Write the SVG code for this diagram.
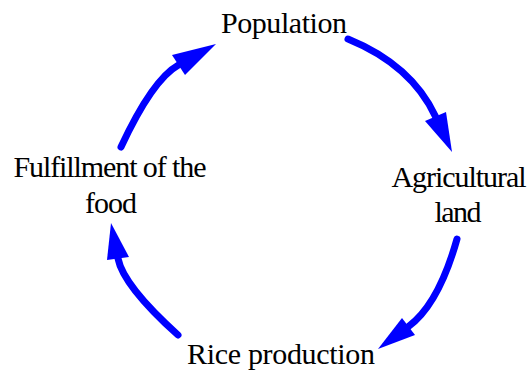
<svg xmlns="http://www.w3.org/2000/svg" width="530" height="373" viewBox="0 0 530 373">
  <style>
    .label { font-family: "Liberation Serif", "Times New Roman", serif; font-size: 30px; fill: #000; text-anchor: middle; }
    .link { fill: none; stroke: #0000ff; stroke-width: 7; stroke-linecap: round; }
    .head { fill: #0000ff; }
  </style>
  <rect width="530" height="373" fill="#fff"/>
  <g id="connectors">
    <!-- Population -> Agricultural land -->
    <path class="link" d="M348,39 Q411.6,65 435.5,116.5"/>
    <polygon class="head" points="425,121 446,112 452,152"/>
    <!-- Agricultural land -> Rice production -->
    <path class="link" d="M457,239 Q438.7,304.2 408.5,326.5"/>
    <polygon class="head" points="402,318 415,335 378,349"/>
    <!-- Rice production -> Fulfillment of the food -->
    <path class="link" d="M178,335 Q123.4,285.8 118,258.5"/>
    <polygon class="head" points="129,257 107,260 111,223"/>
    <!-- Fulfillment of the food -> Population -->
    <path class="link" d="M121,147 Q152.5,79.5 178.5,65"/>
    <polygon class="head" points="172,55 185,75 216,44"/>
  </g>
  <g id="population"><text class="label" x="284" y="33" textLength="126" lengthAdjust="spacing">Population</text></g>
  <g id="agricultural-land"><text class="label" x="459" y="187" textLength="135" lengthAdjust="spacing">Agricultural</text><text class="label" x="458" y="222" textLength="47" lengthAdjust="spacing">land</text></g>
  <g id="rice-production"><text class="label" x="281" y="364" textLength="188" lengthAdjust="spacing">Rice production</text></g>
  <g id="food-fulfillment"><text class="label" x="110" y="177" textLength="193" lengthAdjust="spacing">Fulfillment of the</text><text class="label" x="111" y="213" textLength="52" lengthAdjust="spacing">food</text></g>
</svg>
